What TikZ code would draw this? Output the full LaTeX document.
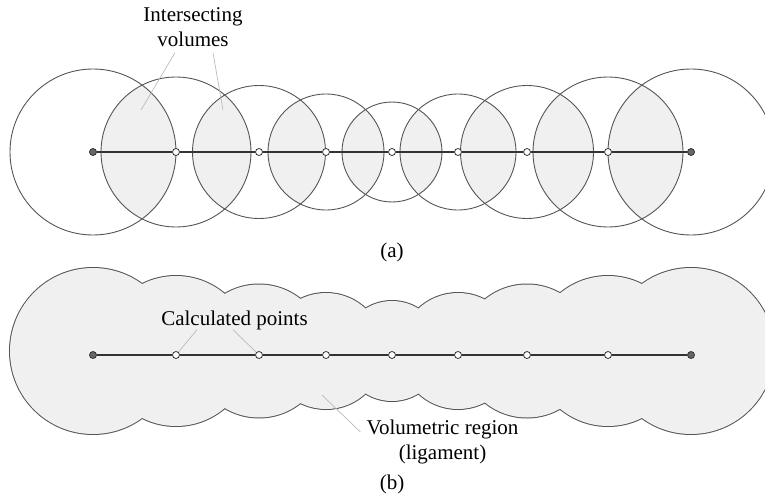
\documentclass[tikz,border=0pt]{standalone}
\usepackage{fontspec}
\setmainfont{Liberation Serif}
\usepackage{xcolor}
\usepackage{tikz}

\definecolor{lensgray}{HTML}{F0F0F0}
\definecolor{rimgray}{HTML}{555555}
\definecolor{tipgray}{HTML}{666666}
\definecolor{leadgray}{HTML}{BBBBBB}

\tikzset{
  ball/.style={draw=rimgray, line width=0.9pt},
  axisline/.style={draw=black!80, line width=1.6pt},
  calcpt/.style={circle, draw=black!80, fill=white, line width=0.8pt, inner sep=0pt, minimum size=7pt},
  endpt/.style={calcpt, fill=tipgray},
  leader/.style={draw=leadgray, line width=0.7pt},
  lbl/.style={align=center, font=\fontsize{21}{25}\selectfont, inner sep=0pt},
}

\begin{document}
\begin{tikzpicture}[x=1pt, y=-1pt]
    \useasboundingbox (0,0) rectangle (765,500);
    \clip (0,0) rectangle (765,500);

    % (a) spheres round the calculated points, overlaps shaded
    \foreach \xa/\ra/\xb/\rb in {93/83/176/75, 176/75/259/66.5, 259/66.5/326/58, 326/58/392/50,
                                 392/50/458/58, 458/58/527/66.5, 527/66.5/608/75, 608/75/691/83} {
        \begin{scope}
            \clip (\xa,152) circle (\ra);
            \fill[lensgray] (\xb,152) circle (\rb);
        \end{scope}
    }
    \foreach \x/\r in {93/83, 176/75, 259/66.5, 326/58, 392/50, 458/58, 527/66.5, 608/75, 691/83}
        \draw[ball] (\x,152) circle (\r);

    \node[endpt] (a0) at (93,152) {};
    \foreach \x [count=\i] in {176,259,326,392,458,527,608}
        \node[calcpt] (a\i) at (\x,152) {};
    \node[endpt] (a8) at (691,152) {};
    \foreach \j [remember=\j as \i (initially 0)] in {1,...,8}
        \draw[axisline] (a\i) -- (a\j);

    \node[lbl] (inter) at (193,27) {Intersecting\\volumes};
    \coordinate (lensA) at (141,110);
    \coordinate (lensB) at (223,110);
    \draw[leader] ([shift={(-18,6)}]inter.south) -- (lensA);
    \draw[leader] ([shift={(20,6)}]inter.south) -- (lensB);
    \node[lbl] (capa) at (392,252) {(a)};

    % (b) union of the spheres = ligament
    \foreach \x/\r in {93/83, 176/75, 259/66.5, 326/58, 392/50, 458/58, 527/66.5, 608/75, 691/83}
        \draw[rimgray, line width=2pt] (\x,351) circle (\r);
    \foreach \x/\r in {93/83, 176/75, 259/66.5, 326/58, 392/50, 458/58, 527/66.5, 608/75, 691/83}
        \fill[lensgray] (\x,351) circle (\r);

    \node[endpt] (b0) at (93,355) {};
    \foreach \x [count=\i] in {176,259,326,392,458,527,608}
        \node[calcpt] (b\i) at (\x,355) {};
    \node[endpt] (b8) at (691,355) {};
    \foreach \j [remember=\j as \i (initially 0)] in {1,...,8}
        \draw[axisline] (b\i) -- (b\j);

    \node[lbl] (calc) at (234.5,320) {Calculated points};
    \draw[leader] ([xshift=-37.5]calc.south) -- (b1);
    \draw[leader] ([xshift=-1.5]calc.south) -- (b2);

    \node[lbl] (vol) at (442.5,442) {Volumetric region\\(ligament)};
    \coordinate (vr) at (322,395);
    \draw[leader] (vr) -- ([shift={(-6,-10)}]vol.west);
    \node[lbl] (capb) at (392,484) {(b)};
\end{tikzpicture}
\end{document}
